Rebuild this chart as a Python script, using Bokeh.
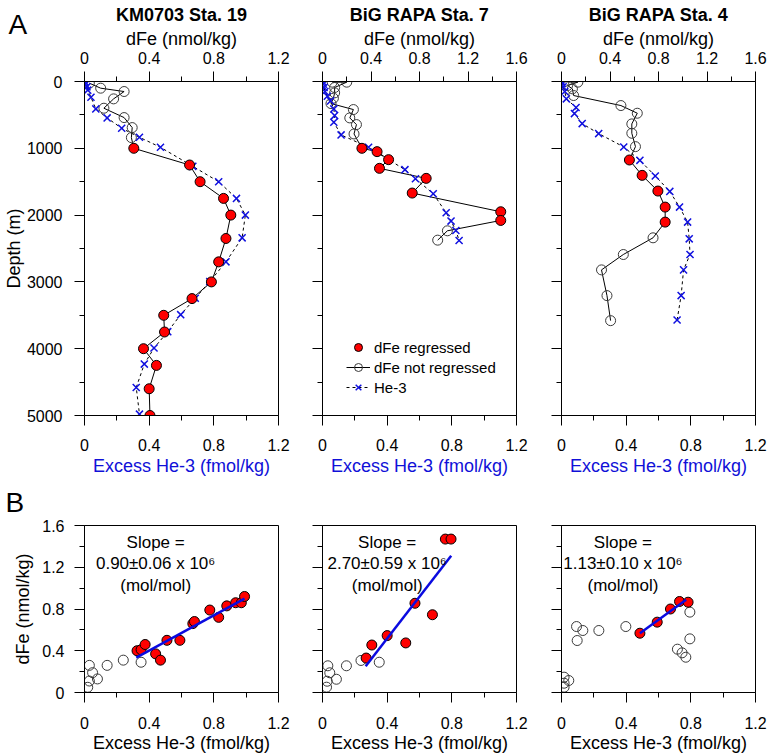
from bokeh.plotting import figure
from bokeh.models import Range1d, LinearAxis, FixedTicker, Legend, LegendItem, Label, Title
from bokeh.layouts import column, row
from bokeh.embed import file_html
from bokeh.resources import INLINE

FONT = "Liberation Sans"

# ---------------- tick values ----------------
depth_ticks = [0, 1000, 2000, 3000, 4000, 5000]
depth_minor = [500, 1500, 2500, 3500, 4500]
ticks_12 = [0, 0.4, 0.8, 1.2]
minor_12 = [0.2, 0.6, 1.0]
ticks_16 = [0, 0.4, 0.8, 1.2, 1.6]
minor_16 = [0.2, 0.6, 1.0, 1.4]

titles = ["KM0703 Sta. 19", "BiG RAPA Sta. 7", "BiG RAPA Sta. 4"]
dfe_axis_max = [1.2, 1.6, 1.6]

# ---------------- A: depth profiles ----------------
# KM0703 Sta. 19
s19_fe_depth = [25, 100, 150, 260, 400, 540, 690, 840, 1000, 1250, 1500, 1750, 2000,
                2350, 2700, 3000, 3250, 3500, 3750, 4000, 4250, 4600, 5000]
s19_fe = [0.03, 0.10, 0.245, 0.18, 0.12, 0.245, 0.295, 0.29, 0.305, 0.65, 0.715, 0.86, 0.905,
          0.875, 0.83, 0.785, 0.665, 0.49, 0.495, 0.365, 0.445, 0.40, 0.405]
s19_reg = [0, 0, 0, 0, 0, 0, 0, 0, 1, 1, 1, 1, 1, 1, 1, 1, 1, 1, 1, 1, 1, 1, 1]
s19_he_depth = [10, 40, 80, 130, 235, 410, 545, 700, 835, 985, 1270, 1500, 1750, 2000,
                2340, 2700, 2995, 3245, 3490, 3745, 3990, 4230, 4580, 4980]
s19_he = [0.005, 0.006, 0.015, 0.02, 0.04, 0.07, 0.14, 0.23, 0.34, 0.47, 0.67, 0.83, 0.94, 0.995,
          0.975, 0.875, 0.775, 0.685, 0.595, 0.515, 0.43, 0.37, 0.32, 0.34]

# BiG RAPA Sta. 7
s7_fe_depth = [10, 10, 90, 170, 250, 330, 420, 545, 645, 785, 1000, 1050, 1170, 1300, 1450,
               1670, 1950, 2080, 2235, 2375]
s7_fe = [0.08, 0.20, 0.10, 0.10, 0.09, 0.07, 0.255, 0.225, 0.28, 0.26, 0.325, 0.45, 0.545, 0.47,
         0.855, 0.74, 1.47, 1.47, 1.03, 0.95]
s7_reg = [0, 0, 0, 0, 0, 0, 0, 0, 0, 0, 1, 1, 1, 1, 1, 1, 1, 1, 0, 0]
s7_he_depth = [0, 40, 90, 150, 220, 290, 410, 510, 610, 800, 985, 1320, 1455, 1680, 1965,
               2090, 2230, 2380]
s7_he = [0.0, 0.005, 0.01, 0.015, 0.03, 0.05, 0.07, 0.075, 0.07, 0.115, 0.285, 0.51, 0.575,
         0.685, 0.765, 0.795, 0.825, 0.845]

# BiG RAPA Sta. 4
s4_fe_depth = [5, 10, 60, 110, 210, 360, 475, 635, 775, 975, 1175, 1405, 1640, 1880, 2105,
               2340, 2590, 2820, 3205, 3580]
s4_fe = [0.02, 0.135, 0.05, 0.09, 0.10, 0.49, 0.625, 0.58, 0.58, 0.61, 0.56, 0.665, 0.795,
         0.855, 0.855, 0.755, 0.51, 0.33, 0.375, 0.405]
s4_reg = [0, 0, 0, 0, 0, 0, 0, 0, 0, 0, 1, 1, 1, 1, 1, 0, 0, 0, 0, 0]
s4_he_depth = [0, 30, 80, 150, 260, 390, 480, 630, 780, 980, 1180, 1415, 1645, 1880, 2105,
               2355, 2590, 2820, 3205, 3570]
s4_he = [0.0, 0.005, 0.01, 0.02, 0.03, 0.09, 0.08, 0.128, 0.23, 0.385, 0.485, 0.58, 0.67,
         0.73, 0.78, 0.79, 0.795, 0.755, 0.74, 0.715]

# ---------------- B: dFe vs excess He-3 ----------------
b19_he_reg = [0.325, 0.35, 0.375, 0.44, 0.47, 0.51, 0.59, 0.67, 0.68, 0.775, 0.83, 0.88, 0.935, 0.97, 0.99]
b19_fe_reg = [0.40, 0.41, 0.46, 0.37, 0.31, 0.50, 0.50, 0.66, 0.68, 0.79, 0.72, 0.83, 0.86, 0.86, 0.92]
b19_he_not = [0.03, 0.05, 0.08, 0.03, 0.02, 0.14, 0.24, 0.35]
b19_fe_not = [0.26, 0.19, 0.13, 0.11, 0.05, 0.26, 0.31, 0.29]
b19_fit_he = [0.32, 0.99]
b19_fit_fe = [0.335, 0.90]

b7_he_reg = [0.27, 0.305, 0.40, 0.515, 0.572, 0.68, 0.76, 0.795]
b7_fe_reg = [0.33, 0.455, 0.545, 0.475, 0.855, 0.745, 1.47, 1.47]
b7_he_not = [0.033, 0.045, 0.086, 0.029, 0.025, 0.148, 0.238, 0.351]
b7_fe_not = [0.256, 0.189, 0.127, 0.108, 0.051, 0.256, 0.307, 0.29]
b7_fit_he = [0.267, 0.796]
b7_fit_fe = [0.252, 1.31]

b4_he_reg = [0.485, 0.592, 0.674, 0.73, 0.783]
b4_fe_reg = [0.568, 0.674, 0.80, 0.872, 0.865]
b4_he_not = [0.093, 0.132, 0.097, 0.231, 0.398, 0.794, 0.794, 0.717, 0.746, 0.769, 0.016, 0.045, 0.016, 0.016]
b4_fe_not = [0.632, 0.594, 0.498, 0.594, 0.632, 0.77, 0.514, 0.415, 0.38, 0.338, 0.147, 0.115, 0.089, 0.051]
b4_fit_he = [0.485, 0.771]
b4_fit_fe = [0.568, 0.888]

slope_values = ["0.90\u00b10.06 x 10\u2076", "2.70\u00b10.59 x 10\u2076", "1.13\u00b10.10 x 10\u2076"]

A_data = [
    (s19_fe_depth, s19_fe, s19_reg, s19_he_depth, s19_he),
    (s7_fe_depth, s7_fe, s7_reg, s7_he_depth, s7_he),
    (s4_fe_depth, s4_fe, s4_reg, s4_he_depth, s4_he),
]
B_data = [
    (b19_he_reg, b19_fe_reg, b19_he_not, b19_fe_not, b19_fit_he, b19_fit_fe),
    (b7_he_reg, b7_fe_reg, b7_he_not, b7_fe_not, b7_fit_he, b7_fit_fe),
    (b4_he_reg, b4_fe_reg, b4_he_not, b4_fe_not, b4_fit_he, b4_fit_fe),
]

# ---------------- layout constants ----------------
widths = [300, 239, 229]
lefts = [84, 22, 22]
rights = [22, 23, 13]
slope_x = [0.44, 0.40, 0.38]
slope_y = [1.437, 1.222, 1.03]


def style_axis(ax, ticks, minors, show_labels=True):
    ax.ticker = FixedTicker(ticks=ticks, minor_ticks=minors)
    ax.major_tick_out = 10
    ax.major_tick_in = 0
    ax.minor_tick_out = 5
    ax.minor_tick_in = 0
    ax.axis_line_color = "black"
    ax.major_tick_line_color = "black"
    ax.minor_tick_line_color = "black"
    ax.major_label_text_font = FONT
    ax.major_label_text_font_size = "16px"
    ax.major_label_text_color = "black"
    ax.axis_label_text_font = FONT
    ax.axis_label_text_font_size = "18px"
    ax.axis_label_text_font_style = "normal"
    ax.axis_label_text_color = "black"
    if not show_labels:
        ax.major_label_overrides = {t: "" for t in ticks}


def base_fig(width, height, left, right, top, bottom, x_end, y_start, y_end):
    p = figure(width=width, height=height, x_range=Range1d(0, x_end),
               y_range=Range1d(y_start, y_end), x_axis_type=None, y_axis_type=None,
               toolbar_location=None, output_backend="svg",
               min_border_left=left, min_border_right=right,
               min_border_top=top, min_border_bottom=bottom)
    p.outline_line_color = "black"
    p.outline_line_width = 1
    p.outline_line_alpha = 1
    p.background_fill_color = "white"
    p.border_fill_color = "white"
    p.title.text_color = "black"
    return p


top_row = []
for i in range(3):
    fe_depth, fe, reg, he_depth, he = A_data[i]
    p = base_fig(widths[i], 478, lefts[i], rights[i], 81, 63, 1.2, 5000, 0)
    p.extra_x_ranges = {"dfe": Range1d(0, dfe_axis_max[i])}

    p.title.text = titles[i]
    p.title.align = "center"
    p.title.text_font = FONT
    p.title.text_font_size = "18px"
    p.title.text_font_style = "bold"
    p.title.standoff = 2

    xb = LinearAxis(axis_label="Excess He-3 (fmol/kg)")
    style_axis(xb, ticks_12, minor_12)
    xb.axis_label_text_color = "#1010d8"
    xb.major_label_standoff = 13
    xb.axis_label_standoff = 2
    p.add_layout(xb, "below")

    xt = LinearAxis(x_range_name="dfe", axis_label="dFe (nmol/kg)")
    if dfe_axis_max[i] > 1.3:
        style_axis(xt, ticks_16, minor_16)
    else:
        style_axis(xt, ticks_12, minor_12)
    xt.major_label_standoff = 8
    xt.axis_label_standoff = 0
    p.add_layout(xt, "above")

    yl = LinearAxis(axis_label="Depth (m)" if i == 0 else None)
    style_axis(yl, depth_ticks, depth_minor, show_labels=(i == 0))
    yl.major_label_standoff = 12
    yl.axis_label_standoff = 0
    p.add_layout(yl, "left")

    he_line = p.line(he, he_depth, line_color="black", line_dash="3 3", line_width=1)
    fe_line = p.line(fe, fe_depth, x_range_name="dfe", line_color="black", line_width=1)
    open_x = [v for v, r in zip(fe, reg) if not r]
    open_y = [d for d, r in zip(fe_depth, reg) if not r]
    red_x = [v for v, r in zip(fe, reg) if r]
    red_y = [d for d, r in zip(fe_depth, reg) if r]
    open_r = p.scatter(open_x, open_y, x_range_name="dfe", marker="circle", size=10,
                       fill_color=None, line_color="#3a3a3a", line_width=1)
    he_pts = p.scatter(he, he_depth, marker="x", size=10, line_color="#1010e0", line_width=1.5)
    red_r = p.scatter(red_x, red_y, x_range_name="dfe", marker="circle", size=10,
                      fill_color="#ff0000", line_color="black", line_width=1)

    if i == 1:
        leg = Legend(items=[LegendItem(label="dFe regressed", renderers=[red_r]),
                            LegendItem(label="dFe not regressed", renderers=[fe_line, open_r]),
                            LegendItem(label="He-3", renderers=[he_line, he_pts])],
                     location=(24, 18), orientation="vertical",
                     background_fill_alpha=0, border_line_alpha=0,
                     padding=0, margin=0, spacing=0,
                     glyph_width=24, glyph_height=20, label_height=20, label_standoff=4,
                     label_text_font=FONT, label_text_font_size="15px",
                     label_text_color="black")
        p.add_layout(leg)
    if i == 0:
        panel_a = Title(text="A", align="left", offset=-76, standoff=-33,
                        vertical_align="top", text_font=FONT, text_font_size="28px",
                        text_font_style="normal", text_color="black")
        p.add_layout(panel_a, "above")
    top_row.append(p)

bottom_row = []
for i in range(3):
    he_reg, fe_reg, he_not, fe_not, fit_he, fit_fe = B_data[i]
    p = base_fig(widths[i], 277, lefts[i], rights[i], 47, 63, 1.2, 0, 1.6)

    xb = LinearAxis(axis_label="Excess He-3 (fmol/kg)")
    style_axis(xb, ticks_12, minor_12)
    xb.major_label_standoff = 14
    xb.axis_label_standoff = 1
    p.add_layout(xb, "below")

    yl = LinearAxis(axis_label="dFe (nmol/kg)" if i == 0 else None)
    style_axis(yl, ticks_16, minor_16, show_labels=(i == 0))
    yl.major_label_standoff = 10
    yl.axis_label_standoff = 6
    p.add_layout(yl, "left")

    p.scatter(he_not, fe_not, marker="circle", size=10, fill_color=None,
              line_color="#3a3a3a", line_width=1)
    p.scatter(he_reg, fe_reg, marker="circle", size=10, fill_color="#ff0000",
              line_color="black", line_width=1)
    p.line(fit_he, fit_fe, line_color="#0a0ae0", line_width=2.5)

    lines = ["Slope =", slope_values[i], "(mol/mol)"]
    for k in range(3):
        p.add_layout(Label(x=slope_x[i], y=slope_y[0] - k * 0.205, text=lines[k],
                           text_font=FONT, text_font_size="17px", text_color="black",
                           text_align="center", text_baseline="middle"))
    if i == 0:
        p.title.text = "B"
        p.title.align = "left"
        p.title.offset = -79
        p.title.vertical_align = "top"
        p.title.standoff = 12
        p.title.text_font = FONT
        p.title.text_font_size = "28px"
        p.title.text_font_style = "normal"
    bottom_row.append(p)

layout = column(row(*top_row, spacing=0), row(*bottom_row, spacing=0), spacing=0)

open("out.html", "w").write(file_html(layout, INLINE))
